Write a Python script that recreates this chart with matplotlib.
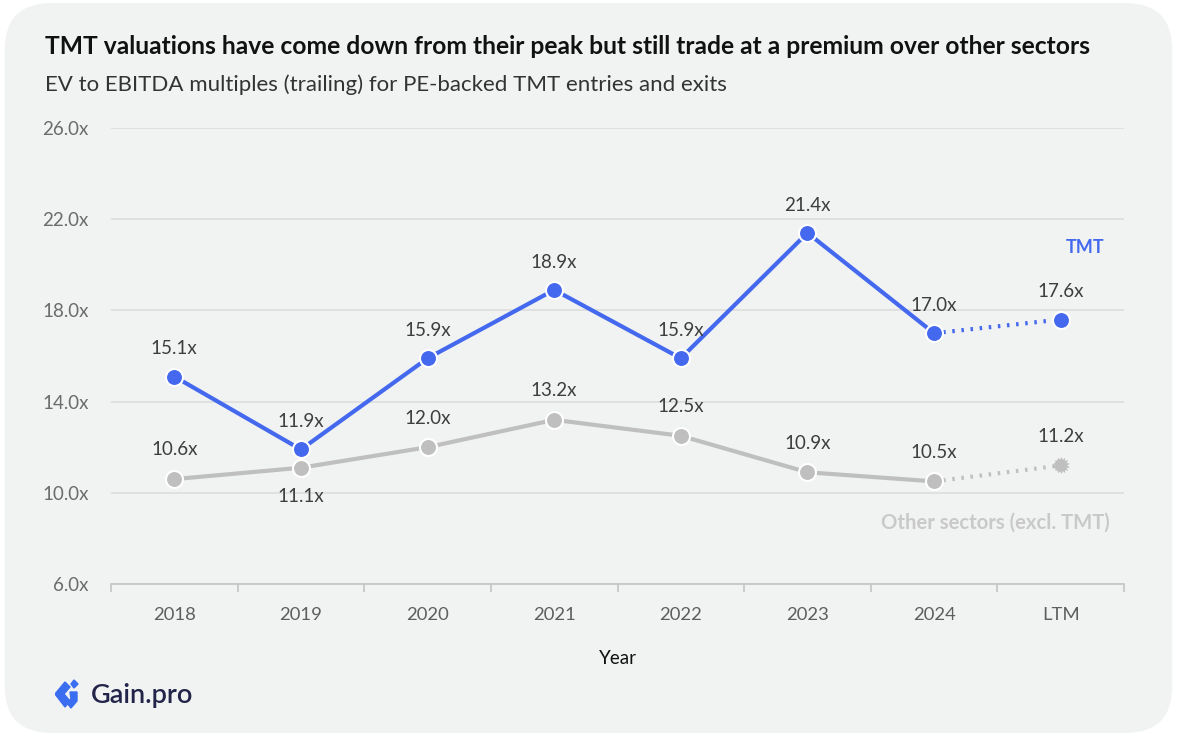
import matplotlib
matplotlib.use("Agg")
import matplotlib.pyplot as plt
from matplotlib.patches import FancyBboxPatch, Polygon
import numpy as np

plt.rcParams['font.family'] = ['Lato', 'DejaVu Sans']

categories = ["2018", "2019", "2020", "2021", "2022", "2023", "2024", "LTM"]
tmt = [15.1, 11.9, 15.9, 18.9, 15.9, 21.4, 17.0, 17.6]
other = [10.6, 11.1, 12.0, 13.2, 12.5, 10.9, 10.5, 11.2]
y_ticks = [6, 10, 14, 18, 22, 26]
other_label_below = [False, True, False, False, False, False, False, False]

BLUE = "#4469ee"
GRAY = "#bfbfbf"
BG = "#f1f3f2"

fig = plt.figure(figsize=(11.77, 7.36), dpi=100)
fig.patch.set_facecolor("white")
card = FancyBboxPatch((0.004, 0.004), 0.992, 0.992,
                      boxstyle="round,pad=0,rounding_size=0.04",
                      transform=fig.transFigure, facecolor=BG, edgecolor="none",
                      mutation_aspect=1177 / 736, zorder=-10)
fig.patches.append(card)

ax = fig.add_axes([111 / 1177, 1 - 584 / 736, (1124 - 111) / 1177, (584 - 128) / 736])
ax.set_facecolor("none")
x = np.arange(len(categories))

ax.set_xlim(-0.5, len(categories) - 0.5)
ax.set_ylim(6, 26)
ax.set_yticks(y_ticks)
ax.set_yticklabels([f"{v:.1f}x" for v in y_ticks])
ax.grid(axis="y", color="#dcdddc", linewidth=1.2)
ax.set_axisbelow(True)
for s in ["top", "right", "left"]:
    ax.spines[s].set_visible(False)
ax.spines["bottom"].set_color("#c4c4c4")
ax.spines["bottom"].set_linewidth(1.2)
ax.tick_params(axis="y", length=0, labelsize=13.5, labelcolor="#6b6b6b", pad=16)

# category labels centred, tick marks on category boundaries
ax.set_xticks(np.arange(len(categories) + 1) - 0.5)
ax.set_xticklabels([])
ax.tick_params(axis="x", length=6, color="#c4c4c4", width=1.2)
for xi, c in zip(x, categories):
    ax.annotate(c, (xi, 6), xytext=(0, -22), textcoords="offset points",
                ha="center", va="center", fontsize=13.3, color="#5e5e5e")
ax.set_xlabel("Year", fontsize=13.5, color="#111", labelpad=38)

# solid historical segments, dotted to LTM
ax.plot(x[:-1], tmt[:-1], color=BLUE, lw=3, zorder=3)
ax.plot(x[-2:], tmt[-2:], color=BLUE, lw=3, ls=(0, (0.6, 1.6)), zorder=3)
ax.plot(x[:-1], other[:-1], color=GRAY, lw=3, zorder=2)
ax.plot(x[-2:], other[-2:], color=GRAY, lw=3, ls=(0, (0.6, 1.6)), zorder=2)

ax.scatter(x, tmt, s=150, color=BLUE, edgecolor="white", linewidth=1.5, zorder=4)
ax.scatter(x[:-1], other[:-1], s=150, color=GRAY, edgecolor="white", linewidth=1.5, zorder=4)
ax.scatter(x[-1:], other[-1:], s=110, color=GRAY, marker=(14, 1, 0),
           edgecolor=GRAY, linewidth=1, zorder=4)
ax.scatter(x[-1:], other[-1:], s=80, color=GRAY, edgecolor="none", zorder=5)

for xi, v in zip(x, tmt):
    ax.annotate(f"{v:.1f}x", (xi, v), xytext=(0, 20), textcoords="offset points",
                ha="center", va="center", fontsize=13.5, color="#3d3d3d")
for xi, v, below in zip(x, other, other_label_below):
    off = -21 if below else 21
    ax.annotate(f"{v:.1f}x", (xi, v), xytext=(0, off), textcoords="offset points",
                ha="center", va="center", fontsize=13.5, color="#3d3d3d")

fig.text(1104 / 1177, 1 - 248 / 736, "TMT", ha="right", va="center",
         fontsize=13, fontweight="bold", color=BLUE)
fig.text(1110 / 1177, 1 - 523 / 736, "Other sectors (excl. TMT)", ha="right",
         va="center", fontsize=14.6, fontweight="bold", color="#c9c9c9")

fig.text(45 / 1177, 1 - 46 / 736,
         "TMT valuations have come down from their peak but still trade at a premium over other sectors",
         ha="left", va="center", fontsize=17.7, fontweight="bold", color="#111")
fig.text(45 / 1177, 1 - 85 / 736,
         "EV to EBITDA multiples (trailing) for PE-backed TMT entries and exits",
         ha="left", va="center", fontsize=16, color="#333")

# brand mark
lax = fig.add_axes([55 / 1177, 1 - 709 / 736, 30 / 1177, 30 / 736])
lax.set_xlim(0, 30)
lax.set_ylim(0, 30)
lax.axis("off")
lax.add_patch(Polygon([[0, 15], [10, 27], [15, 22], [9, 15], [15, 8], [10, 2]],
                      closed=True, color="#3a6df0"))
lax.add_patch(Polygon([[16, 25], [19, 29], [23, 25], [19, 21]], closed=True, color="#3a6df0"))
lax.add_patch(Polygon([[15, 17], [22, 17], [22, 8], [16, 1], [12, 6], [16, 10]],
                      closed=True, color="#3a6df0"))
fig.text(91 / 1177, 1 - 695 / 736, "Gain.pro", ha="left", va="center",
         fontsize=19.5, fontweight="semibold", color="#22244a")

fig.savefig("out.png", dpi=100, facecolor=fig.get_facecolor())
